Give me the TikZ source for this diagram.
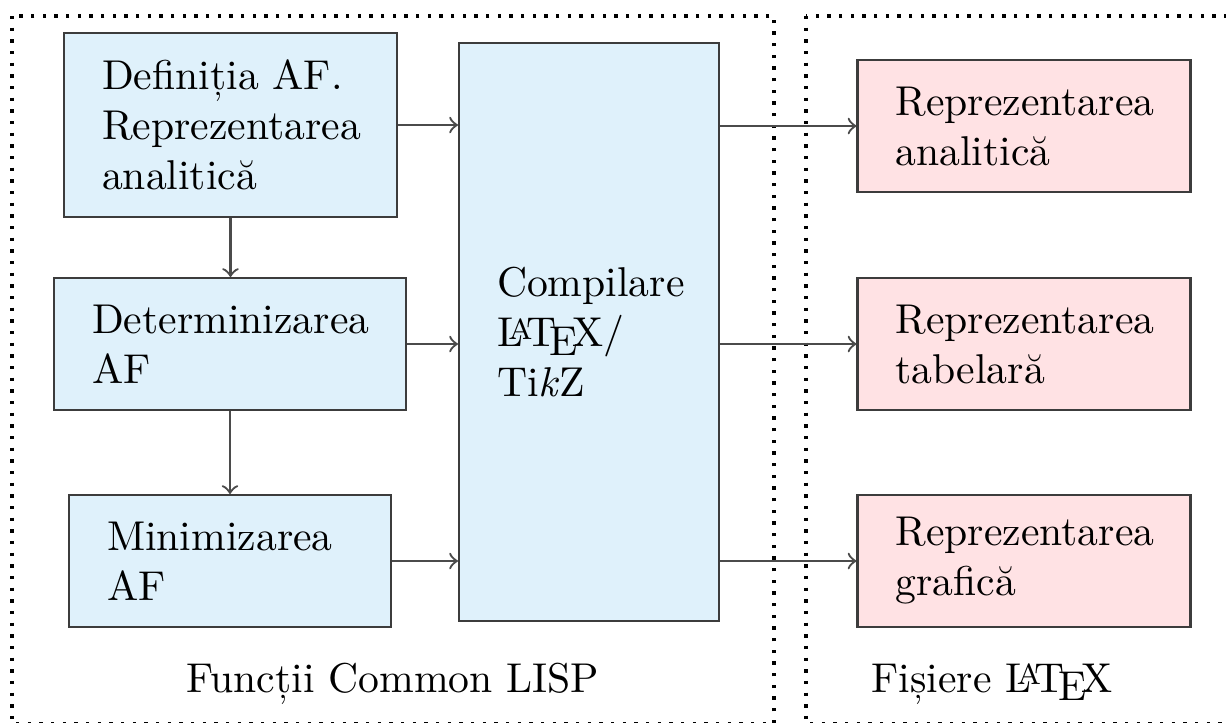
\documentclass[tikz,border=0pt]{standalone}
\usepackage{fontspec}
\hyphenpenalty=10000
\exhyphenpenalty=10000
\definecolor{boxblue}{RGB}{223,241,251}
\definecolor{boxpink}{RGB}{255,226,228}
\definecolor{edge}{RGB}{60,60,60}
\definecolor{wire}{RGB}{75,75,75}
\tikzset{
  blk/.style={draw=edge, line width=0.5pt, rectangle, align=left,
    inner xsep=9.12pt, inner ysep=0pt},
  fnbox/.style={blk, fill=boxblue},
  filebox/.style={blk, fill=boxpink},
  arr/.style={->, draw=wire, line width=0.55pt},
  groupframe/.style={draw=black, line width=0.8pt, dotted},
  caption/.style={anchor=base, inner sep=0pt}
}
\begin{document}
\begin{tikzpicture}[x=0.24pt, y=-0.24pt]
  \useasboundingbox (0,0) rectangle (1226,722);
  \clip (0,0) rectangle (1226,722);

  % dotted group frames
  \draw[groupframe] (12,16) rectangle (774,723.5);
  \draw[groupframe] (806,16) rectangle (1260,723.5);

  % Common LISP functions
  \node[fnbox, text width=61.68pt, minimum height=44.16pt] (def) at (230.5,125)
    {Definiția AF.\\Reprezentarea\\analitică};
  \node[fnbox, text width=66.24pt, minimum height=31.68pt] (det) at (230,344)
    {Determinizarea\\AF};
  \node[fnbox, text width=59.04pt, minimum height=31.68pt] (min) at (230,561)
    {Minimizarea\\AF};
  \node[fnbox, text width=44.16pt, minimum height=138.72pt] (comp) at (589,332)
    {Compilare\\\LaTeX/\\Ti\textit{k}Z};

  % generated LaTeX files
  \node[filebox, text width=61.68pt, minimum height=31.68pt] (ran) at (1024,126)
    {Reprezentarea\\analitică};
  \node[filebox, text width=61.68pt, minimum height=31.68pt] (rtb) at (1024,344)
    {Reprezentarea\\tabelară};
  \node[filebox, text width=61.68pt, minimum height=31.68pt] (rgr) at (1024,561)
    {Reprezentarea\\grafică};

  % flow
  \draw[arr] (def.south) -- (def.south |- det.north);
  \draw[arr] (det.south) -- (det.south |- min.north);
  \draw[arr] (def.east) -- (def.east -| comp.west);
  \draw[arr] (det.east) -- (det.east -| comp.west);
  \draw[arr] (min.east) -- (min.east -| comp.west);
  \draw[arr] (ran.west -| comp.east) -- (ran.west);
  \draw[arr] (rtb.west -| comp.east) -- (rtb.west);
  \draw[arr] (rgr.west -| comp.east) -- (rgr.west);

  % group captions
  \node[caption] (capl) at (393,692) {Funcții Common LISP};
  \node[caption] (capr) at (992,692) {Fișiere \LaTeX};
\end{tikzpicture}
\end{document}
